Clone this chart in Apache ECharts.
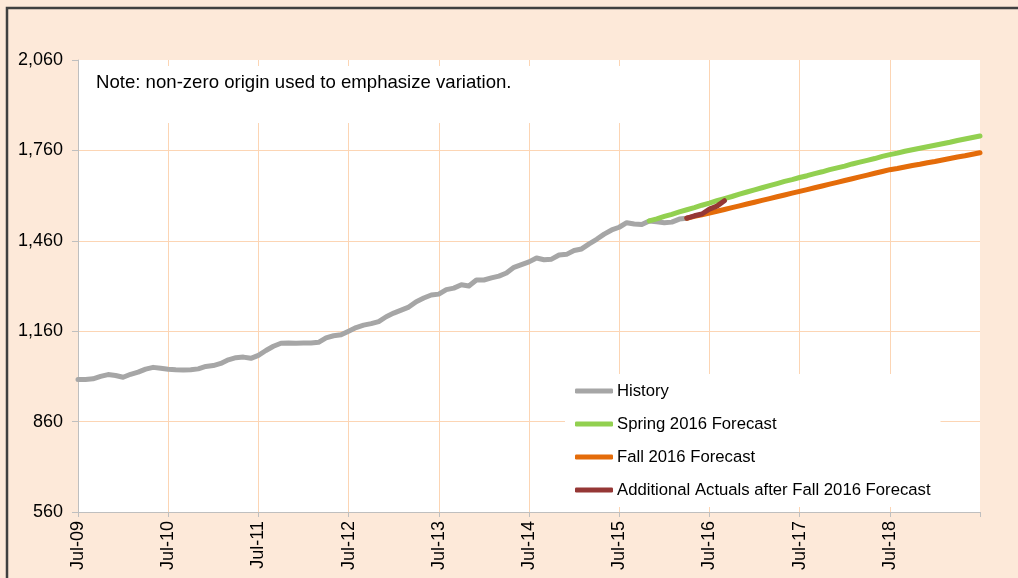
<!DOCTYPE html>
<html>
<head>
<meta charset="utf-8">
<script src="https://cdn.jsdelivr.net/npm/echarts@6/dist/echarts.min.js"></script>
<style>
html,body{margin:0;padding:0;background:#FDE9D9;overflow:hidden;}
#chart{width:1018px;height:578px;}
</style>
</head>
<body>
<div id="chart"></div>
<script>
// Monthly categories Jul-09 .. Jul-19
const monthNames = ['Jan','Feb','Mar','Apr','May','Jun','Jul','Aug','Sep','Oct','Nov','Dec'];
const categories = [];
for (let k = 0; k <= 120; k++) {
  const m = (6 + k) % 12;
  const y = 9 + Math.floor((6 + k) / 12);
  categories.push(monthNames[m] + '-' + String(y).padStart(2, '0'));
}

// History: Jul-09 .. Apr-16
const historyValues = [
  1000, 1000, 1002, 1010, 1016, 1013, 1007, 1017, 1024, 1034, 1040, 1037,
  1034, 1032, 1031, 1032, 1035, 1043, 1046, 1053, 1065, 1072, 1074, 1070,
  1080, 1096, 1110, 1120, 1121, 1120, 1121, 1121, 1123, 1138, 1145, 1148,
  1160, 1172, 1180, 1185, 1192, 1208, 1220, 1230, 1240, 1258, 1270, 1280,
  1283, 1298, 1303, 1314, 1310, 1330, 1330, 1337, 1343, 1353, 1372, 1381,
  1390, 1403, 1397, 1399, 1413, 1415, 1428, 1433, 1450, 1465, 1482, 1496,
  1505, 1520, 1516, 1514, 1526, 1523, 1520, 1522, 1532, 1535
];
const historyStart = 0;

// Spring 2016 Forecast: Nov-15 .. Jul-19
const springValues = [
  1526, 1533, 1541, 1548, 1556, 1563, 1570, 1578, 1585, 1593, 1600, 1607,
  1615, 1622, 1629, 1636, 1643, 1650, 1657, 1663, 1670, 1676, 1683, 1689,
  1696, 1702, 1708, 1715, 1721, 1727, 1733, 1740, 1746, 1751, 1757, 1762,
  1767, 1772, 1777, 1782, 1787, 1793, 1798, 1803, 1808
];
const springStart = 76;

// Fall 2016 Forecast: Apr-16 .. Jul-19
const fallValues = [
  1535, 1541, 1546, 1552, 1558, 1564, 1570, 1576, 1582, 1588, 1594, 1600,
  1606, 1612, 1618, 1624, 1630, 1636, 1642, 1648, 1654, 1660, 1666, 1672,
  1678, 1684, 1690, 1696, 1700, 1705, 1710, 1714, 1719, 1723, 1728, 1733,
  1738, 1742, 1747, 1752
];
const fallStart = 81;

// Additional Actuals after Fall 2016 Forecast: Apr-16 .. Sep-16
const actualValues = [1535, 1543, 1549, 1565, 1575, 1593];
const actualStart = 81;

const yTicks = [560, 860, 1160, 1460, 1760, 2060];

function pad(vals, start) {
  const out = new Array(categories.length).fill(null);
  vals.forEach((v, i) => { out[start + i] = v; });
  return out;
}

const FONT = 'Liberation Sans, Arial, sans-serif';
const gridColor = '#FCD5B4';
const isJul = (idx) => idx % 12 === 0;

const chart = echarts.init(document.getElementById('chart'));
chart.setOption({
  backgroundColor: '#FDE9D9',
  animation: false,
  textStyle: { fontFamily: FONT },
  grid: {
    left: 78, right: 38, top: 60, bottom: 66,
    show: true, backgroundColor: '#ffffff', borderWidth: 0
  },
  xAxis: {
    type: 'category',
    data: categories,
    boundaryGap: false,
    axisLine: { lineStyle: { color: '#BFBFBF', width: 1 } },
    axisTick: { show: true, interval: (idx) => isJul(idx), length: 5, lineStyle: { color: '#BFBFBF' } },
    axisLabel: {
      interval: (idx) => isJul(idx) && idx < 120,
      rotate: 90, margin: 9,
      fontSize: 18, color: '#000', fontFamily: FONT
    },
    splitLine: {
      show: true,
      interval: (idx) => isJul(idx) && idx > 0 && idx < 120,
      lineStyle: { color: gridColor, width: 1 }
    }
  },
  yAxis: {
    type: 'value',
    min: yTicks[0], max: yTicks[yTicks.length - 1], interval: 300,
    axisLine: { show: true, lineStyle: { color: '#BFBFBF', width: 1 } },
    axisTick: { show: true, length: 6, lineStyle: { color: '#BFBFBF' } },
    axisLabel: {
      margin: 15, fontSize: 18, color: '#000', fontFamily: FONT,
      formatter: (v) => v.toLocaleString('en-US')
    },
    splitLine: {
      show: true,
      lineStyle: { color: [gridColor, gridColor, gridColor, gridColor, gridColor, '#ffffff'], width: 1 }
    }
  },
  legend: {
    orient: 'vertical',
    left: 565, top: 374,
    padding: [8, 10, 8, 10],
    backgroundColor: '#ffffff',
    itemWidth: 38, itemHeight: 5, itemGap: 15,
    icon: 'roundRect',
    textStyle: { fontSize: 16.7, color: '#000', fontFamily: FONT, padding: [0, 0, 0, -1], lineHeight: 18 },
    data: ['History', 'Spring 2016 Forecast', 'Fall 2016 Forecast', 'Additional Actuals after Fall 2016 Forecast']
  },
  graphic: [
    {
      type: 'rect', z: 1, silent: true,
      shape: { x: 80, y: 66, width: 545, height: 57 },
      style: { fill: '#ffffff' }
    },
    {
      type: 'text', z: 2, left: 96, top: 73,
      style: { text: 'Note: non-zero origin used to emphasize variation.', fill: '#000', font: '18.6px ' + FONT }
    },
    {
      type: 'rect', z: 3, silent: true,
      shape: { x: 7, y: 8, width: 1100, height: 700 },
      style: { fill: 'none', stroke: '#404040', lineWidth: 2.5 }
    }
  ],
  series: [
    { name: 'History', type: 'line', data: pad(historyValues, historyStart), showSymbol: false, symbol: 'none',
      lineStyle: { color: '#A6A6A6', width: 5, cap: 'round', join: 'round' }, itemStyle: { color: '#A6A6A6' }, z: 3 },
    { name: 'Spring 2016 Forecast', type: 'line', data: pad(springValues, springStart), showSymbol: false, symbol: 'none',
      lineStyle: { color: '#92D050', width: 5, cap: 'round', join: 'round' }, itemStyle: { color: '#92D050' }, z: 4 },
    { name: 'Fall 2016 Forecast', type: 'line', data: pad(fallValues, fallStart), showSymbol: false, symbol: 'none',
      lineStyle: { color: '#E46C0A', width: 5, cap: 'round', join: 'round' }, itemStyle: { color: '#E46C0A' }, z: 5 },
    { name: 'Additional Actuals after Fall 2016 Forecast', type: 'line', data: pad(actualValues, actualStart), showSymbol: false, symbol: 'none',
      lineStyle: { color: '#953735', width: 5, cap: 'round', join: 'round' }, itemStyle: { color: '#953735' }, z: 6 }
  ]
});
</script>
</body>
</html>
